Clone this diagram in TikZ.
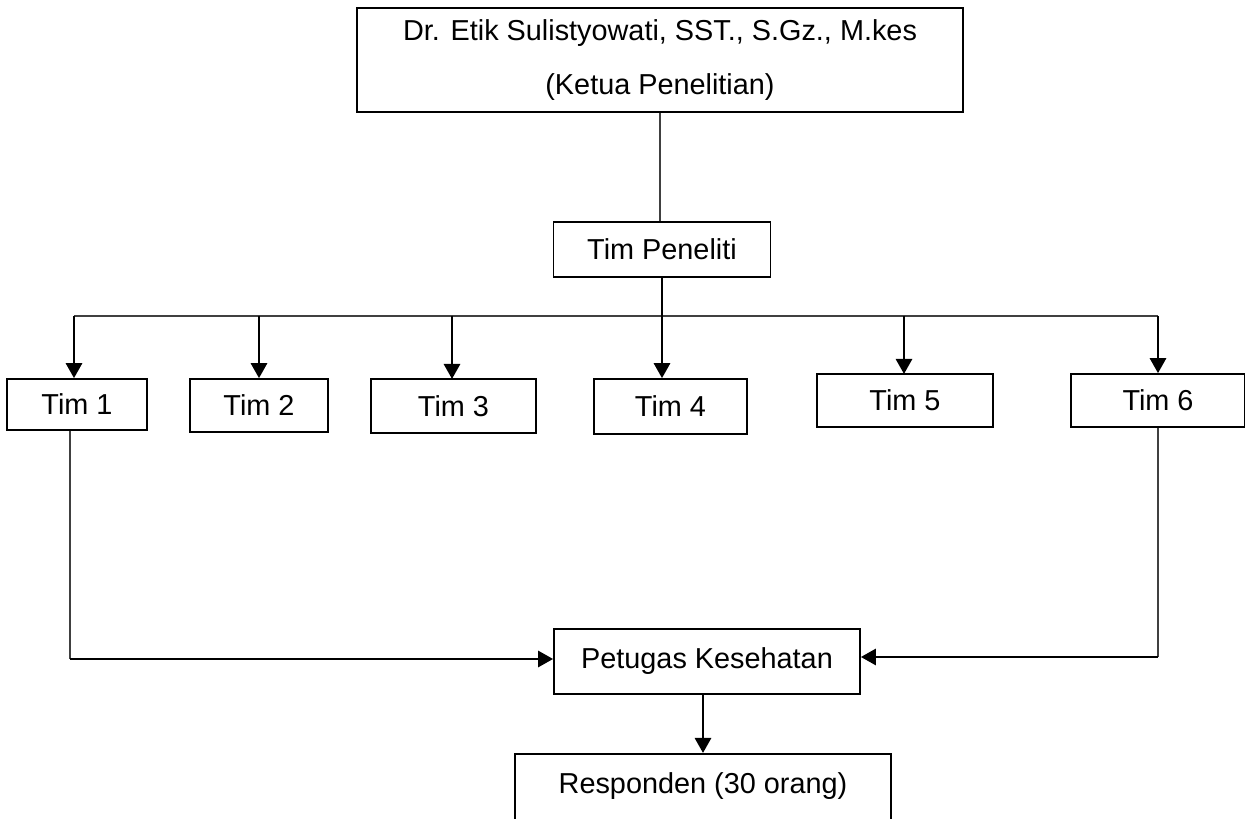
\documentclass[tikz,border=0pt]{standalone}
\usepackage{fontspec}
\setmainfont{Liberation Sans}
\usetikzlibrary{arrows.meta}
\begin{document}
\begin{tikzpicture}[
    x=0.01cm,
    y=-0.01cm,
    font=\fontsize{8.2}{15.1}\selectfont,
    kotak/.style={
        draw,
        line width=0.45pt,
        inner sep=0pt,
        align=center
    },
    garis/.style={
        line width=0.3pt,
        draw=black!75
    },
    panah/.style={
        line width=0.8pt,
        -{Triangle[width=0.16cm,length=0.15cm]}
    }
]
    \useasboundingbox (0,0) rectangle (1245,819);
    \clip (0,0) rectangle (1245,819);

    \node[kotak, minimum width=6.06cm, minimum height=1.04cm] (ketua) at (660,60)
        {Dr. Etik Sulistyowati, SST., S.Gz., M.kes\\(Ketua Penelitian)};
    \node[kotak, minimum width=2.17cm, minimum height=0.55cm] (peneliti) at (662,249.5)
        {Tim Peneliti};

    \node[kotak, minimum width=1.40cm, minimum height=0.51cm] (tim1) at (77,404.5) {Tim 1};
    \node[kotak, minimum width=1.38cm, minimum height=0.53cm] (tim2) at (259,405.5) {Tim 2};
    \node[kotak, minimum width=1.65cm, minimum height=0.54cm] (tim3) at (453.5,406) {Tim 3};
    \node[kotak, minimum width=1.53cm, minimum height=0.55cm] (tim4) at (670.5,406.5) {Tim 4};
    \node[kotak, minimum width=1.76cm, minimum height=0.53cm] (tim5) at (905,400.5) {Tim 5};
    \node[kotak, minimum width=1.74cm, minimum height=0.53cm] (tim6) at (1158,400.5) {Tim 6};

    \node[kotak, minimum width=3.06cm, minimum height=0.65cm] (petugas) at (707,661.5)
        {Petugas Kesehatan};
    \node[kotak, anchor=north, minimum width=3.76cm, text height=0.40cm, text depth=0.60cm]
        (responden) at (703,753) {Responden (30 orang)};

    \coordinate (bus-kiri) at (74,316);
    \coordinate (bus-kanan) at (1158,316);
    \coordinate (siku-kiri) at (70,659);
    \coordinate (siku-kanan) at (1158,657);

    \draw[garis] (ketua.south) -- (ketua.south |- peneliti.north);
    \draw[garis, line width=0.4pt] (bus-kiri) -- (bus-kanan);

    \draw[panah] (peneliti.south) -- (peneliti.south |- tim4.north);
    \draw[panah] (bus-kiri) -- (bus-kiri |- tim1.north);
    \draw[panah] (tim2.north |- bus-kiri) -- (tim2.north);
    \draw[panah] (452,316) -- (452,379);
    \draw[panah] (904,316) -- (904,374);
    \draw[panah] (bus-kanan) -- (tim6.north);

    \draw[garis] (tim1.south -| siku-kiri) -- (siku-kiri);
    \draw[panah] (siku-kiri) -- (siku-kiri -| petugas.west);
    \draw[garis, line width=0.45pt] (tim6.south) -- (siku-kanan);
    \draw[panah] (siku-kanan) -- (siku-kanan -| petugas.east);

    \draw[panah] (petugas.south -| responden.north) -- (responden.north);
\end{tikzpicture}
\end{document}
